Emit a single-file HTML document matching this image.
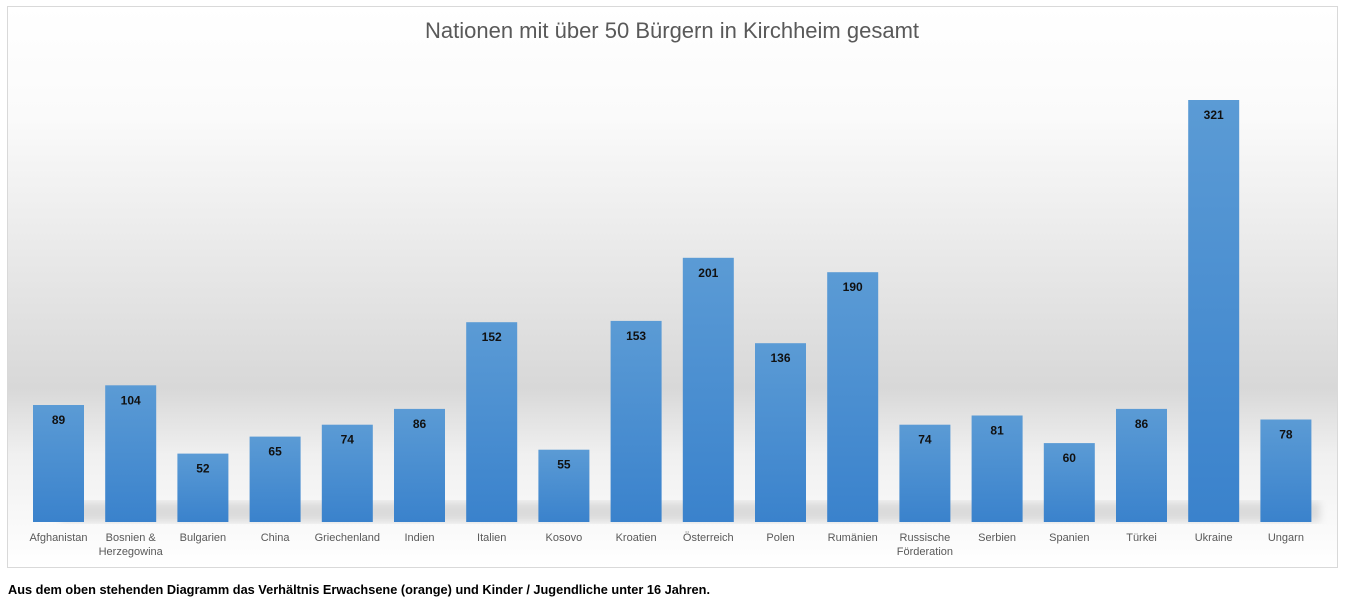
<!DOCTYPE html>
<html><head><meta charset="utf-8"><style>
html,body{margin:0;padding:0;background:#fff;}
svg{display:block;}
</style></head><body>
<svg width="1354" height="605" xmlns="http://www.w3.org/2000/svg" font-family="Liberation Sans, sans-serif">
<defs>
<linearGradient id="bg" x1="0" y1="0" x2="0" y2="1">
<stop offset="0" stop-color="#ffffff"/>
<stop offset="0.2" stop-color="#fafafa"/>
<stop offset="0.68" stop-color="#d8d8d8"/>
<stop offset="0.8" stop-color="#f0f0f0"/>
<stop offset="1" stop-color="#ffffff"/>
</linearGradient>
<linearGradient id="bar" x1="0" y1="0" x2="0" y2="1">
<stop offset="0" stop-color="#5b9bd5"/>
<stop offset="1" stop-color="#3a82cc"/>
</linearGradient>
<filter id="blur"><feGaussianBlur stdDeviation="4"/></filter>
</defs>
<rect x="7.5" y="6.5" width="1330" height="561" fill="url(#bg)" stroke="#d9d9d9"/>
<text x="672" y="38" text-anchor="middle" font-size="22" fill="#595959">Nationen mit über 50 Bürgern in Kirchheim gesamt</text>
<polygon points="60,522 1320,522 1320,502 60,502" fill="#9a9a9a" opacity="0.3" filter="url(#blur)"/>
<g fill="url(#bar)">
<rect x="33" y="405" width="51" height="117"/>
<rect x="105.2" y="385.3" width="51" height="136.7"/>
<rect x="177.4" y="453.6" width="51" height="68.4"/>
<rect x="249.6" y="436.6" width="51" height="85.4"/>
<rect x="321.8" y="424.7" width="51" height="97.3"/>
<rect x="394" y="408.9" width="51" height="113.1"/>
<rect x="466.2" y="322.2" width="51" height="199.8"/>
<rect x="538.4" y="449.7" width="51" height="72.3"/>
<rect x="610.6" y="320.9" width="51" height="201.1"/>
<rect x="682.8" y="257.8" width="51" height="264.2"/>
<rect x="755" y="343.2" width="51" height="178.8"/>
<rect x="827.2" y="272.2" width="51" height="249.8"/>
<rect x="899.4" y="424.7" width="51" height="97.3"/>
<rect x="971.6" y="415.5" width="51" height="106.5"/>
<rect x="1043.8" y="443.1" width="51" height="78.9"/>
<rect x="1116" y="408.9" width="51" height="113.1"/>
<rect x="1188.2" y="100" width="51" height="422"/>
<rect x="1260.4" y="419.5" width="51" height="102.5"/>
</g>
<g font-size="12" font-weight="bold" fill="#111" text-anchor="middle">
<text x="58.5" y="424">89</text>
<text x="130.7" y="404.3">104</text>
<text x="202.9" y="472.6">52</text>
<text x="275.1" y="455.6">65</text>
<text x="347.3" y="443.7">74</text>
<text x="419.5" y="427.9">86</text>
<text x="491.7" y="341.2">152</text>
<text x="563.9" y="468.7">55</text>
<text x="636.1" y="339.9">153</text>
<text x="708.3" y="276.8">201</text>
<text x="780.5" y="362.2">136</text>
<text x="852.7" y="291.2">190</text>
<text x="924.9" y="443.7">74</text>
<text x="997.1" y="434.5">81</text>
<text x="1069.3" y="462.1">60</text>
<text x="1141.5" y="427.9">86</text>
<text x="1213.7" y="119">321</text>
<text x="1285.9" y="438.5">78</text>
</g>
<g font-size="11" fill="#595959" text-anchor="middle">
<text x="58.5" y="541">Afghanistan</text>
<text x="130.7" y="541">Bosnien &amp;</text>
<text x="130.7" y="555">Herzegowina</text>
<text x="202.9" y="541">Bulgarien</text>
<text x="275.1" y="541">China</text>
<text x="347.3" y="541">Griechenland</text>
<text x="419.5" y="541">Indien</text>
<text x="491.7" y="541">Italien</text>
<text x="563.9" y="541">Kosovo</text>
<text x="636.1" y="541">Kroatien</text>
<text x="708.3" y="541">Österreich</text>
<text x="780.5" y="541">Polen</text>
<text x="852.7" y="541">Rumänien</text>
<text x="924.9" y="541">Russische</text>
<text x="924.9" y="555">Förderation</text>
<text x="997.1" y="541">Serbien</text>
<text x="1069.3" y="541">Spanien</text>
<text x="1141.5" y="541">Türkei</text>
<text x="1213.7" y="541">Ukraine</text>
<text x="1285.9" y="541">Ungarn</text>
</g>
<text x="8" y="594" font-size="13" font-weight="bold" fill="#000" textLength="702" lengthAdjust="spacingAndGlyphs">Aus dem oben stehenden Diagramm das Verhältnis Erwachsene (orange) und Kinder / Jugendliche unter 16 Jahren.</text>
</svg>
</body></html>
